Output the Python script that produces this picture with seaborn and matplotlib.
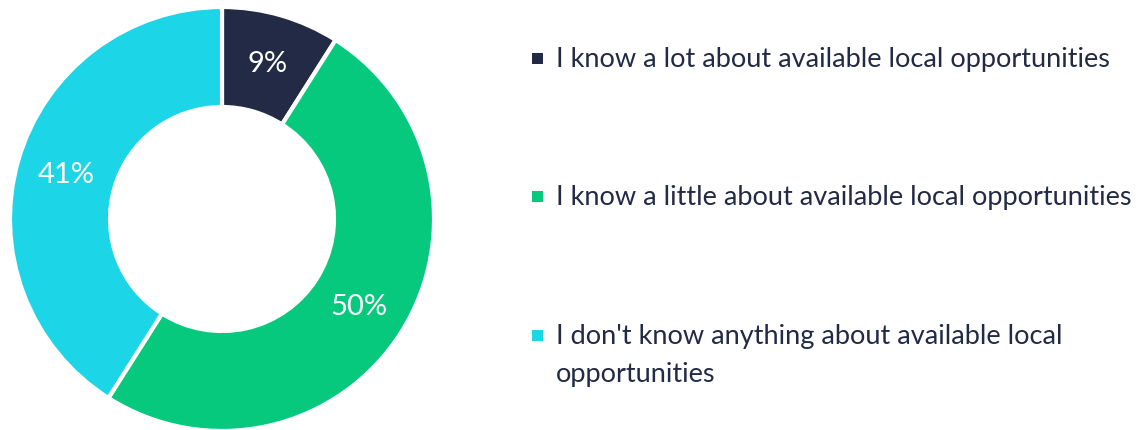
import matplotlib.pyplot as plt
import seaborn as sns

labels = [
    "I know a lot about available local opportunities",
    "I know a little about available local opportunities",
    "I don't know anything about available local\nopportunities",
]
shares = [9, 50, 41]
colors = ["#222A45", "#06C97E", "#1CD5E6"]
text_color = "#222A45"

sns.set_theme(style="white")
plt.rcParams["font.family"] = ["Lato", "DejaVu Sans"]

W, H = 1139, 431
fig = plt.figure(figsize=(W / 100, H / 100), dpi=100)

# donut axes: center (222, 220) px, outer radius 212 px
cx, cy, r = 222, 220, 212
ax = fig.add_axes([(cx - r) / W, (H - cy - r) / H, 2 * r / W, 2 * r / H])
wedges, _, autotexts = ax.pie(
    shares,
    colors=colors,
    startangle=90,
    counterclock=False,
    radius=1.0,
    autopct="%d%%",
    pctdistance=0.764,
    wedgeprops=dict(width=100 / 212, edgecolor="white", linewidth=3),
    textprops=dict(color="white", fontsize=21),
)
ax.set_xlim(-1, 1)
ax.set_ylim(-1, 1)
ax.set_aspect("equal")
ax.axis("off")

# legend drawn by hand to match the layout
legend_y = [60, 198, 337]
line_gap = 38
for lab, col, y in zip(labels, colors, legend_y):
    fig.patches.append(
        plt.Rectangle(
            (532 / W, (H - y - 5) / H), 11 / W, 11 / H,
            transform=fig.transFigure, facecolor=col, edgecolor="none",
        )
    )
    for i, line in enumerate(lab.split("\n")):
        fig.text(
            556 / W, (H - y - i * line_gap) / H, line, color=text_color,
            fontsize=19.5, va="center", ha="left",
        )

fig.savefig("out.png", dpi=100)
